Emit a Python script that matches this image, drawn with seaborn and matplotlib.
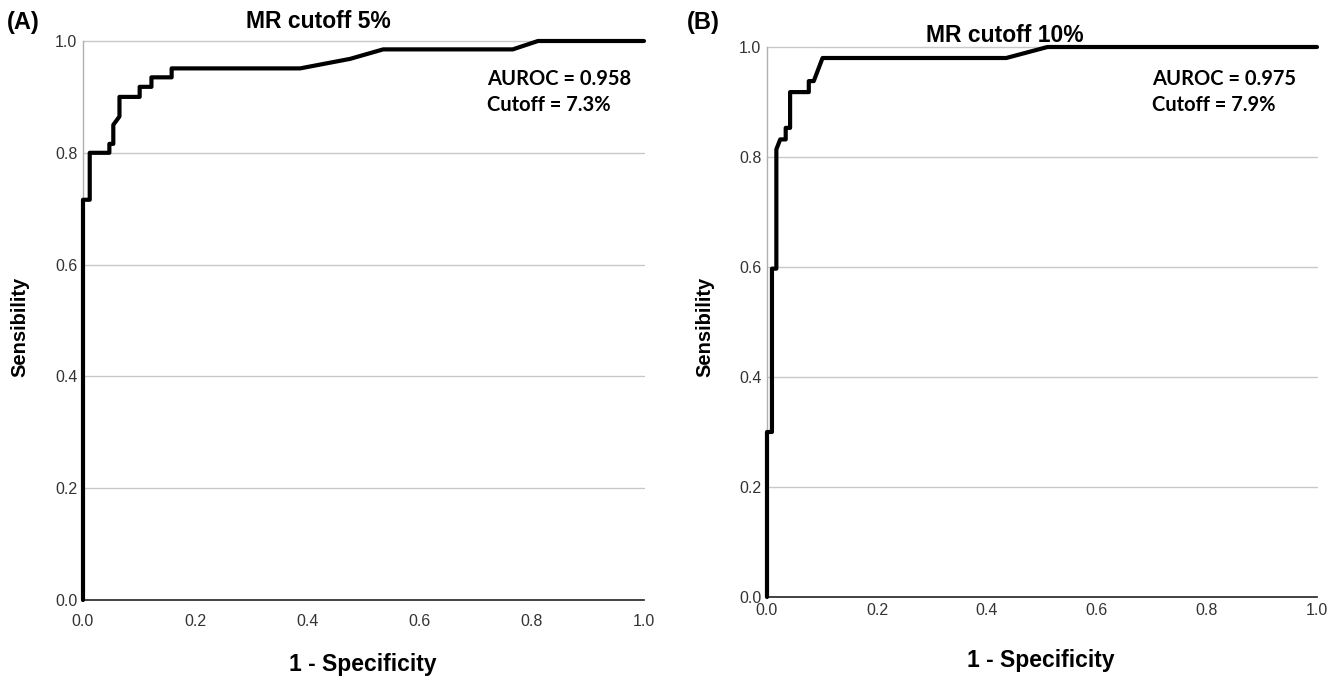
import matplotlib
matplotlib.use("Agg")
import matplotlib.pyplot as plt
import numpy as np
import pandas as pd
import seaborn as sns

# ROC curve vertices
fpr_a = [0.0, 0.0, 0.012, 0.012, 0.047, 0.047, 0.054, 0.054, 0.065, 0.065, 0.101, 0.101,
         0.122, 0.122, 0.158, 0.158, 0.387, 0.476, 0.535, 0.766, 0.811, 1.0]
tpr_a = [0.0, 0.716, 0.716, 0.80, 0.80, 0.816, 0.816, 0.85, 0.865, 0.90, 0.90, 0.918,
         0.918, 0.935, 0.935, 0.951, 0.951, 0.968, 0.985, 0.985, 1.0, 1.0]

fpr_b = [0.0, 0.0, 0.009, 0.009, 0.017, 0.017, 0.024, 0.034, 0.034, 0.042, 0.042,
         0.076, 0.076, 0.085, 0.101, 0.435, 0.51, 1.0]
tpr_b = [0.0, 0.30, 0.30, 0.597, 0.597, 0.814, 0.832, 0.832, 0.853, 0.853, 0.918,
         0.918, 0.938, 0.938, 0.98, 0.98, 1.0, 1.0]

titles = ["MR cutoff 5%", "MR cutoff 10%"]
panel_tags = ["(A)", "(B)"]
auroc = ["0.958", "0.975"]
cutoffs = ["7.3%", "7.9%"]
ticks = [0.0, 0.2, 0.4, 0.6, 0.8, 1.0]

sns.set_style("white")
plt.rcParams['font.family'] = ['Liberation Sans', 'DejaVu Sans']
plt.rcParams['text.color'] = 'black'

fig = plt.figure(figsize=(13.41, 6.8), dpi=100)
W, H = 1341, 680

def px_axes(x0, x1, y_top, y_bot):
    return fig.add_axes([x0 / W, 1 - y_bot / H, (x1 - x0) / W, (y_bot - y_top) / H])

ax_a = px_axes(83, 644, 41, 600)
ax_b = px_axes(767, 1317, 47, 597)

panels = [
    (ax_a, fpr_a, tpr_a, 10),
    (ax_b, fpr_b, tpr_b, 4.5),
]

for ax, fx, ty, xpad in panels:
    df = pd.DataFrame({"fpr": fx, "tpr": ty})
    for t in ticks[1:]:
        ax.axhline(t, color="#c8c8c8", lw=1.0, zorder=0)
    sns.lineplot(data=df, x="fpr", y="tpr", sort=False, estimator=None,
                 color="black", lw=3.0, ax=ax, zorder=3)
    ax.set_xlim(0, 1)
    ax.set_ylim(0, 1)
    ax.set_xticks(ticks)
    ax.set_yticks(ticks)
    ax.set_xticklabels([f"{t:.1f}" for t in ticks], fontsize=11.5, color="#333333")
    ax.set_yticklabels([f"{t:.1f}" for t in ticks], fontsize=11.5, color="#333333")
    ax.tick_params(axis="x", length=0, pad=xpad)
    ax.tick_params(axis="y", length=0, pad=4)
    ax.set_xlabel("")
    ax.set_ylabel("")
    for s in ["top", "right"]:
        ax.spines[s].set_visible(False)
    ax.spines["left"].set_color("#b0b0b0")
    ax.spines["left"].set_linewidth(1.0)
    ax.spines["bottom"].set_color("#222222")
    ax.spines["bottom"].set_linewidth(1.2)
    for line in ax.lines:
        line.set_clip_on(False)

# titles, labels and annotations (pixel positions)
def ftext(x, y, s, **kw):
    fig.text(x / W, 1 - y / H, s, color="black", **kw)

ftext(7, 22, panel_tags[0], fontsize=17, fontweight="bold", va="center")
ftext(687, 22, panel_tags[1], fontsize=17, fontweight="bold", va="center")
ftext(318, 21, titles[0], fontsize=16.5, fontweight="bold", ha="center", va="center")
ftext(1005, 35, titles[1], fontsize=16.5, fontweight="bold", ha="center", va="center")

ftext(20, 327, "Sensibility", fontsize=14.5, fontweight="bold", rotation=90,
      ha="center", va="center")
ftext(705, 327, "Sensibility", fontsize=14.5, fontweight="bold", rotation=90,
      ha="center", va="center")
ftext(363, 664, "1 - Specificity", fontsize=16.5, fontweight="bold", ha="center", va="center")
ftext(1041, 660, "1 - Specificity", fontsize=16.5, fontweight="bold", ha="center", va="center")

ann_font = ['Lato', 'DejaVu Sans']
ftext(487, 79, f"AUROC = {auroc[0]}", fontsize=14.5, fontweight="bold", va="center", family=ann_font)
ftext(487, 105, f"Cutoff = {cutoffs[0]}", fontsize=14.5, fontweight="bold", va="center", family=ann_font)
ftext(1152, 79, f"AUROC = {auroc[1]}", fontsize=14.5, fontweight="bold", va="center", family=ann_font)
ftext(1152, 105, f"Cutoff = {cutoffs[1]}", fontsize=14.5, fontweight="bold", va="center", family=ann_font)

fig.savefig("out.png", dpi=100)
